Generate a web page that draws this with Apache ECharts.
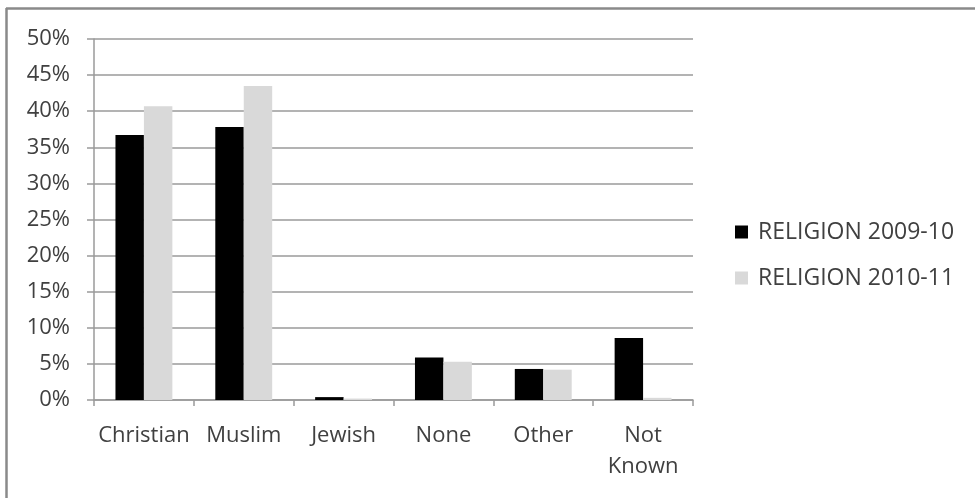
<!DOCTYPE html>
<html>
<head>
<meta charset="utf-8">
<script src="https://cdn.jsdelivr.net/npm/echarts@6/dist/echarts.min.js"></script>
<style>
html,body{margin:0;padding:0;background:#fff;}
#chart{width:975px;height:498px;}
</style>
</head>
<body>
<div id="chart"></div>
<script>
const categories = ['Christian', 'Muslim', 'Jewish', 'None', 'Other', 'Not\nKnown'];
const religion2009 = [36.7, 37.8, 0.4, 5.9, 4.3, 8.6];
const religion2010 = [40.7, 43.5, 0.2, 5.3, 4.2, 0.3];
const seriesNames = ['RELIGION 2009-10', 'RELIGION 2010-11'];

const chart = echarts.init(document.getElementById('chart'), null, {renderer: 'canvas'});
const textColor = '#404040';
const fontFamily = '"Open Sans", "Noto Sans", sans-serif';
chart.setOption({
  animation: false,
  backgroundColor: '#ffffff',
  textStyle: {fontFamily: fontFamily},
  grid: {left: 94, right: 282, top: 39, bottom: 98, containLabel: false},
  legend: {
    orient: 'vertical',
    left: 730,
    top: 214,
    itemWidth: 13,
    itemHeight: 13,
    itemGap: 20,
    icon: 'rect',
    textStyle: {fontSize: 23, color: textColor, fontFamily: fontFamily, lineHeight: 26, padding: [0, 0, 0, 5]},
    data: seriesNames
  },
  xAxis: {
    type: 'category',
    data: categories,
    axisLine: {lineStyle: {color: '#9a9a9a', width: 1.5}},
    axisTick: {show: true, length: 6, lineStyle: {color: '#9a9a9a', width: 1.5}},
    axisLabel: {interval: 0, hideOverlap: false, fontSize: 22, color: textColor, margin: 20, lineHeight: 31, fontFamily: fontFamily}
  },
  yAxis: {
    type: 'value',
    min: 0,
    max: 50,
    interval: 5,
    axisLine: {show: true, lineStyle: {color: '#9a9a9a', width: 1.5}},
    axisTick: {show: true, length: 7, lineStyle: {color: '#9a9a9a', width: 1.5}},
    splitLine: {show: true, lineStyle: {color: '#9a9a9a', width: 1.5}},
    axisLabel: {fontSize: 22, color: textColor, margin: 24, formatter: '{value}%', fontFamily: fontFamily}
  },
  series: [
    {
      name: seriesNames[0],
      type: 'bar',
      data: religion2009,
      barGap: '0%',
      barCategoryGap: '43%',
      itemStyle: {color: '#000000'}
    },
    {
      name: seriesNames[1],
      type: 'bar',
      data: religion2010,
      barGap: '0%',
      barCategoryGap: '43%',
      itemStyle: {color: '#d9d9d9'}
    }
  ],
  graphic: [
    {type: 'line', shape: {x1: 6, y1: 8.5, x2: 975, y2: 8.5}, style: {stroke: '#8a8a8a', lineWidth: 2.5}},
    {type: 'line', shape: {x1: 6.5, y1: 8, x2: 6.5, y2: 498}, style: {stroke: '#8a8a8a', lineWidth: 2.5}}
  ]
});
</script>
</body>
</html>
